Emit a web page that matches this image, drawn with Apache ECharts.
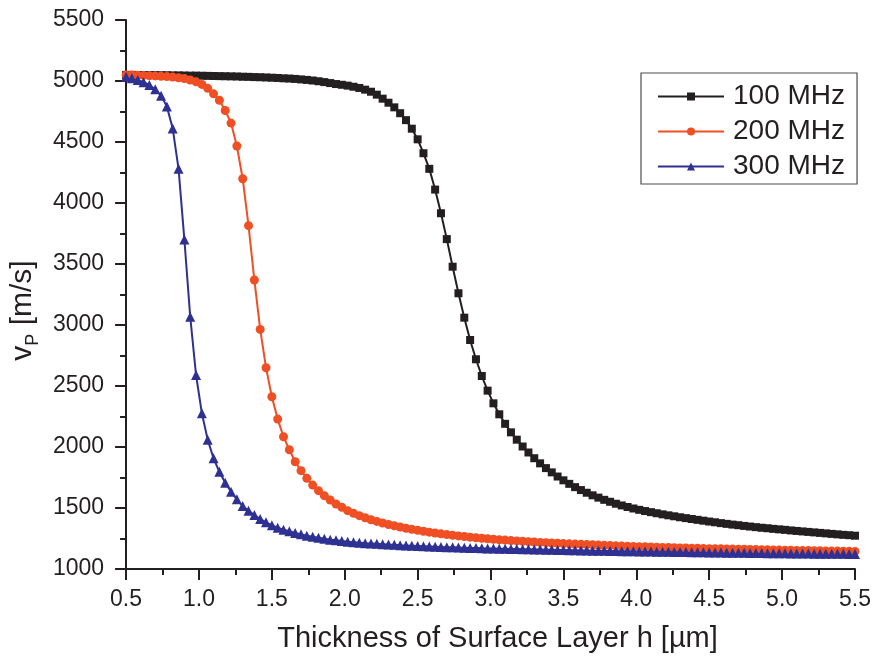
<!DOCTYPE html>
<html>
<head>
<meta charset="utf-8">
<script src="https://cdn.jsdelivr.net/npm/echarts@6/dist/echarts.min.js"></script>
<style>
  html, body { margin: 0; padding: 0; background: #fff; }
  #chart { width: 877px; height: 665px; }
</style>
</head>
<body>
<div id="chart"></div>
<script>
// Surface layer thickness h [µm], sampled every 0.04 µm
const thickness = [
  0.50, 0.54, 0.58, 0.62, 0.66, 0.70, 0.74, 0.78, 0.82, 0.86,
  0.90, 0.94, 0.98, 1.02, 1.06, 1.10, 1.14, 1.18, 1.22, 1.26,
  1.30, 1.34, 1.38, 1.42, 1.46, 1.50, 1.54, 1.58, 1.62, 1.66,
  1.70, 1.74, 1.78, 1.82, 1.86, 1.90, 1.94, 1.98, 2.02, 2.06,
  2.10, 2.14, 2.18, 2.22, 2.26, 2.30, 2.34, 2.38, 2.42, 2.46,
  2.50, 2.54, 2.58, 2.62, 2.66, 2.70, 2.74, 2.78, 2.82, 2.86,
  2.90, 2.94, 2.98, 3.02, 3.06, 3.10, 3.14, 3.18, 3.22, 3.26,
  3.30, 3.34, 3.38, 3.42, 3.46, 3.50, 3.54, 3.58, 3.62, 3.66,
  3.70, 3.74, 3.78, 3.82, 3.86, 3.90, 3.94, 3.98, 4.02, 4.06,
  4.10, 4.14, 4.18, 4.22, 4.26, 4.30, 4.34, 4.38, 4.42, 4.46,
  4.50, 4.54, 4.58, 4.62, 4.66, 4.70, 4.74, 4.78, 4.82, 4.86,
  4.90, 4.94, 4.98, 5.02, 5.06, 5.10, 5.14, 5.18, 5.22, 5.26,
  5.30, 5.34, 5.38, 5.42, 5.46, 5.50
];

// Phase velocity v_P [m/s] at 100 MHz
const v100 = [
  5050, 5050, 5049, 5049, 5048, 5048, 5047, 5047, 5046, 5046,
  5045, 5044, 5044, 5043, 5042, 5041, 5040, 5039, 5038, 5037,
  5035, 5034, 5032, 5031, 5029, 5027, 5025, 5022, 5020, 5017,
  5013, 5009, 5004, 4998, 4991, 4983, 4975, 4969, 4962, 4953,
  4943, 4929, 4912, 4888, 4855, 4822, 4784, 4736, 4679, 4609,
  4522, 4408, 4280, 4110, 3916, 3704, 3478, 3260, 3060, 2877,
  2719, 2582, 2462, 2358, 2268, 2190, 2120, 2060, 2004, 1955,
  1908, 1866, 1827, 1792, 1758, 1727, 1698, 1671, 1647, 1625,
  1604, 1585, 1567, 1551, 1535, 1521, 1508, 1496, 1485, 1475,
  1466, 1457, 1448, 1440, 1432, 1424, 1417, 1410, 1403, 1396,
  1389, 1383, 1376, 1370, 1364, 1359, 1353, 1348, 1343, 1338,
  1334, 1329, 1325, 1321, 1316, 1312, 1308, 1304, 1300, 1296,
  1292, 1288, 1284, 1280, 1277, 1273
];

// Phase velocity v_P [m/s] at 200 MHz
const v200 = [
  5050, 5049, 5048, 5046, 5044, 5042, 5039, 5036, 5032, 5027,
  5020, 5008, 4993, 4972, 4940, 4895, 4842, 4758, 4655, 4467,
  4199, 3814, 3369, 2964, 2650, 2412, 2229, 2084, 1977, 1879,
  1806, 1743, 1688, 1642, 1601, 1566, 1533, 1506, 1478, 1456,
  1437, 1420, 1404, 1390, 1377, 1365, 1354, 1344, 1334, 1325,
  1317, 1309, 1302, 1295, 1288, 1282, 1276, 1271, 1266, 1261,
  1256, 1252, 1248, 1244, 1240, 1237, 1233, 1230, 1227, 1224,
  1221, 1218, 1216, 1213, 1211, 1208, 1206, 1204, 1202, 1200,
  1198, 1196, 1194, 1192, 1190, 1188, 1187, 1185, 1183, 1182,
  1180, 1179, 1177, 1176, 1175, 1173, 1172, 1171, 1170, 1168,
  1167, 1166, 1165, 1164, 1163, 1162, 1161, 1160, 1159, 1158,
  1157, 1156, 1155, 1154, 1153, 1152, 1151, 1151, 1150, 1149,
  1148, 1147, 1147, 1146, 1145, 1144
];

// Phase velocity v_P [m/s] at 300 MHz
const v300 = [
  5035, 5022, 5008, 4990, 4967, 4932, 4880, 4790, 4610, 4280,
  3700, 3068, 2590, 2276, 2060, 1907, 1797, 1707, 1634, 1571,
  1516, 1478, 1443, 1410, 1383, 1358, 1339, 1322, 1309, 1295,
  1284, 1273, 1265, 1257, 1248, 1240, 1235, 1229, 1224, 1220,
  1216, 1212, 1209, 1206, 1203, 1200, 1198, 1195, 1193, 1191,
  1189, 1187, 1185, 1183, 1181, 1179, 1178, 1176, 1175, 1173,
  1172, 1170, 1169, 1168, 1166, 1165, 1164, 1163, 1162, 1161,
  1160, 1159, 1158, 1157, 1156, 1155, 1154, 1153, 1152, 1151,
  1150, 1150, 1149, 1148, 1147, 1146, 1146, 1145, 1144, 1143,
  1143, 1142, 1141, 1141, 1140, 1139, 1139, 1138, 1137, 1137,
  1136, 1135, 1135, 1134, 1134, 1133, 1133, 1132, 1131, 1131,
  1130, 1130, 1129, 1129, 1128, 1128, 1127, 1127, 1126, 1126,
  1125, 1125, 1124, 1124, 1123, 1123
];

const seriesNames = ['100 MHz', '200 MHz', '300 MHz'];
const seriesColors = ['#231f20', '#f04e23', '#2e3192'];

const FONT = '"Liberation Sans", Arial, Helvetica, sans-serif';
const INK = '#231f20';

function pairs(ys) {
  return thickness.map((h, i) => [h, ys[i]]);
}

function lineSeries(name, ys, color, symbol, size) {
  return {
    name: name,
    type: 'line',
    data: pairs(ys),
    symbol: symbol,
    symbolSize: size,
    showAllSymbol: true,
    smooth: false,
    lineStyle: { color: color, width: 2 },
    itemStyle: { color: color, borderWidth: 0 },
    emphasis: { disabled: true },
    animation: false
  };
}

const axisCommon = {
  axisLine: { show: true, onZero: false, lineStyle: { color: INK, width: 2 } },
  axisTick: { show: true, inside: false, length: 11, lineStyle: { color: INK, width: 2 } },
  minorTick: { show: true, splitNumber: 2, length: 6, lineStyle: { color: INK, width: 2 } },
  splitLine: { show: false },
  minorSplitLine: { show: false }
};

const chart = echarts.init(document.getElementById('chart'), null, { renderer: 'canvas' });

chart.setOption({
  backgroundColor: '#ffffff',
  animation: false,
  grid: { left: 125, right: 22, top: 20, bottom: 96, containLabel: false },
  legend: {
    orient: 'vertical',
    left: 641,
    top: 73,
    padding: [6, 12, 0, 16],
    itemGap: 0,
    itemWidth: 66,
    itemHeight: 10,
    borderColor: '#4d4d4d',
    borderWidth: 1.2,
    backgroundColor: '#ffffff',
    data: seriesNames,
    textStyle: { fontFamily: FONT, fontSize: 28, color: INK, lineHeight: 35, padding: [0, 0, 0, 4] }
  },
  xAxis: Object.assign({
    type: 'value',
    min: 0.5,
    max: 5.5,
    interval: 0.5,
    name: 'Thickness of Surface Layer h [\u00b5m]',
    nameLocation: 'middle',
    nameGap: 55,
    nameTextStyle: { fontFamily: FONT, fontSize: 29, color: INK, padding: [0, 0, 0, 14] },
    axisLabel: {
      margin: 19,
      fontFamily: FONT,
      fontSize: 23,
      color: INK,
      formatter: function (v) { return v.toFixed(1); }
    }
  }, axisCommon),
  yAxis: Object.assign({
    type: 'value',
    min: 1000,
    max: 5500,
    interval: 500,
    name: '{a|v}{b|P}{c| [m/s]}',
    nameLocation: 'middle',
    nameGap: 76,
    nameTextStyle: {
      rich: {
        a: { fontFamily: FONT, fontSize: 30, color: INK, lineHeight: 38 },
        b: { fontFamily: FONT, fontSize: 18, color: INK, lineHeight: 18, verticalAlign: 'bottom' },
        c: { fontFamily: FONT, fontSize: 30, color: INK, lineHeight: 38, padding: [0, 32, 0, 0] }
      }
    },
    axisLabel: {
      margin: 22,
      fontFamily: FONT,
      fontSize: 23,
      color: INK,
      formatter: function (v) { return String(v); }
    }
  }, axisCommon),
  series: [
    lineSeries(seriesNames[0], v100, seriesColors[0], 'rect', 8),
    lineSeries(seriesNames[1], v200, seriesColors[1], 'circle', 9),
    lineSeries(seriesNames[2], v300, seriesColors[2], 'triangle', 10)
  ]
});
</script>
</body>
</html>
